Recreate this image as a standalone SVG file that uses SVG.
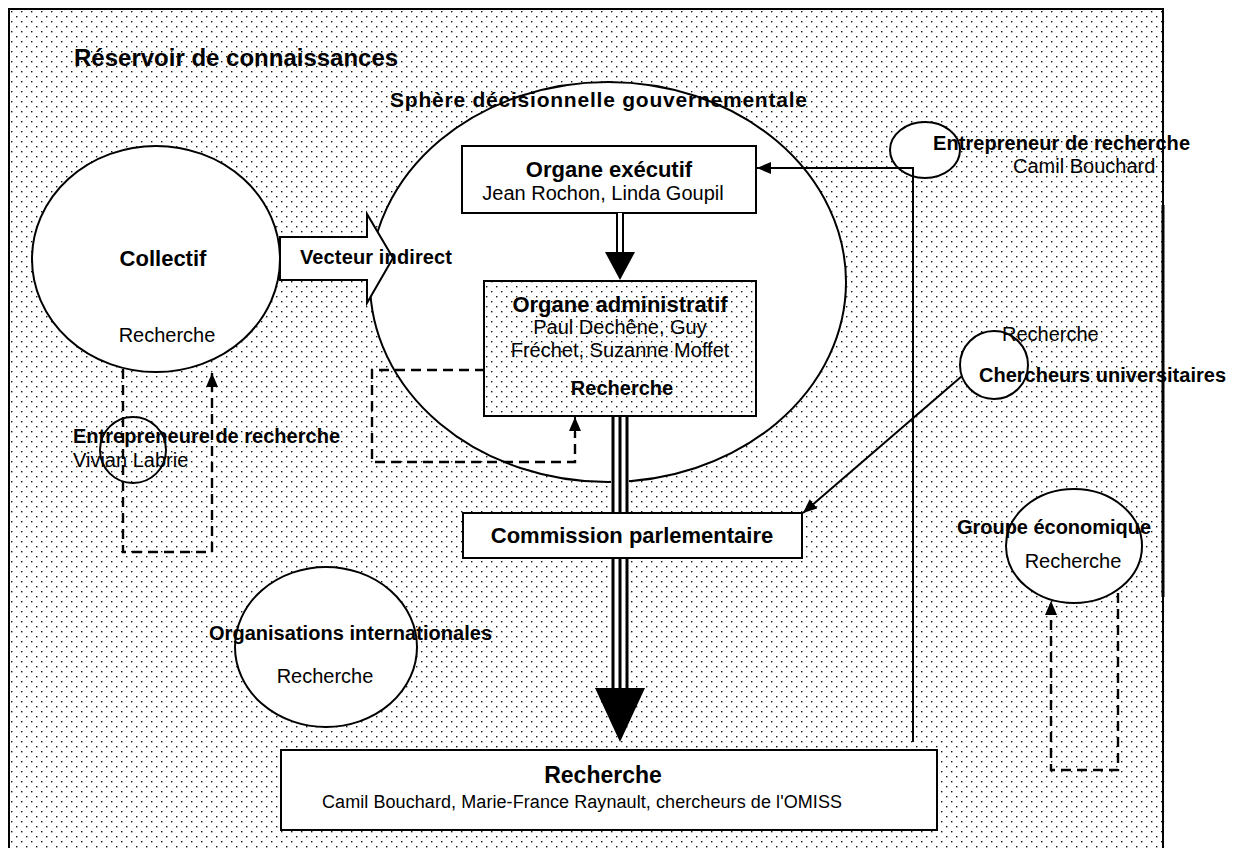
<svg xmlns="http://www.w3.org/2000/svg" width="1240" height="848" viewBox="0 0 1240 848">
<defs>
<pattern id="dots" width="10" height="10" patternUnits="userSpaceOnUse">
<rect x="0" y="0" width="10" height="10" fill="#fff"/>
<rect x="1" y="1" width="1.4" height="1.4" fill="#111"/>
<rect x="6" y="6" width="1.4" height="1.4" fill="#111"/>
</pattern>
<marker id="ah" markerUnits="userSpaceOnUse" markerWidth="14" markerHeight="12" refX="14" refY="6" orient="auto">
<path d="M0,0 L14,6 L0,12 z" fill="#000"/>
</marker>
</defs>
<style>
text{font-family:"Liberation Sans",Arial,sans-serif;fill:#000}
.b{font-weight:bold;font-size:20px}
.r{font-size:20px}
.w{fill:#fff;stroke:#000;stroke-width:2}
.o{fill:none;stroke:#000;stroke-width:2}
.d{fill:none;stroke:#000;stroke-width:2.4;stroke-dasharray:10,6}
.c{text-anchor:middle}
</style>
<rect x="9" y="9" width="1154" height="850" fill="url(#dots)" stroke="#000" stroke-width="2"/>
<line x1="1163" y1="205" x2="1163" y2="597" stroke="#000" stroke-width="3"/>
<text x="74" y="66" style="font-weight:bold;font-size:24px">Réservoir de connaissances</text>

<g id="sphere">
<ellipse cx="608" cy="282" rx="238" ry="200" class="w"/>
<text x="390" y="107" style="font-weight:bold;font-size:21px" textLength="417" lengthAdjust="spacing">Sphère décisionnelle gouvernementale</text>
</g>

<g id="executif">
<rect x="462" y="146" width="294" height="67" class="w"/>
<text x="609" y="177" class="c" style="font-weight:bold;font-size:22px">Organe exécutif</text>
<text x="603" y="200" class="r c">Jean Rochon, Linda Goupil</text>
</g>

<g id="administratif">
<rect x="484" y="281" width="272" height="135" fill="url(#dots)" stroke="#000" stroke-width="2"/>
<text x="620" y="312" class="c" style="font-weight:bold;font-size:22px">Organe administratif</text>
<text x="620" y="334" class="r c">Paul Dechêne, Guy</text>
<text x="620" y="357" class="r c">Fréchet, Suzanne Moffet</text>
<text x="622" y="395" class="b c">Recherche</text>
</g>

<g id="collectif">
<ellipse cx="156" cy="259" rx="124" ry="113" class="w"/>
<text x="163" y="266" class="c" style="font-weight:bold;font-size:22px">Collectif</text>
<text x="167" y="342" class="r c">Recherche</text>
</g>

<g id="vecteur">
<polygon points="280,237 367,237 367,214 393,258 367,303 367,280 280,280" class="w"/>
<text x="300" y="264" class="b" textLength="152" lengthAdjust="spacing">Vecteur indirect</text>
</g>

<g id="entrepreneure">
<circle cx="133" cy="450" r="33" class="o"/>
<text x="73" y="443" class="b" textLength="267" lengthAdjust="spacing">Entrepreneure de recherche</text>
<text x="73" y="467" class="r">Vivian Labrie</text>
</g>

<g id="entrepreneur">
<ellipse cx="925" cy="150" rx="35" ry="28" class="w"/>
<text x="933" y="150" class="b" textLength="257" lengthAdjust="spacing">Entrepreneur de recherche</text>
<text x="1013" y="173" class="r">Camil Bouchard</text>
</g>

<g id="chercheurs">
<circle cx="994" cy="365" r="34" class="w"/>
<text x="1002" y="341" class="r">Recherche</text>
<text x="979" y="382" class="b" textLength="247" lengthAdjust="spacing">Chercheurs universitaires</text>
</g>

<g id="commission">
<rect x="463" y="513" width="339" height="45" class="w"/>
<text x="632" y="543" class="c" style="font-weight:bold;font-size:22px">Commission parlementaire</text>
</g>

<g id="organisations">
<ellipse cx="326" cy="647" rx="91" ry="80" class="w"/>
<text x="209" y="640" class="b" textLength="283" lengthAdjust="spacing">Organisations internationales</text>
<text x="325" y="683" class="r c">Recherche</text>
</g>

<g id="groupe">
<ellipse cx="1074" cy="546" rx="68" ry="57" class="w"/>
<text x="957" y="534" class="b" textLength="194" lengthAdjust="spacing">Groupe économique</text>
<text x="1073" y="568" class="r c">Recherche</text>
</g>

<g id="recherche">
<rect x="281" y="750" width="656" height="80" class="w"/>
<text x="603" y="783" class="c" style="font-weight:bold;font-size:23px">Recherche</text>
<text x="322" y="808" style="font-size:18px" textLength="520" lengthAdjust="spacing">Camil Bouchard, Marie-France Raynault, chercheurs de l'OMISS</text>
</g>

<g id="connectors">
<rect x="616" y="213" width="8" height="39" fill="#fff"/>
<line x1="617" y1="213" x2="617" y2="252" stroke="#000" stroke-width="2"/>
<line x1="623" y1="213" x2="623" y2="252" stroke="#000" stroke-width="2"/>
<polygon points="605,252 635,252 620,280" fill="#000"/>

<rect x="611" y="417" width="18" height="95" fill="#fff"/>
<rect x="611" y="559" width="18" height="129" fill="#fff"/>
<path d="M613,417 V512 M620,417 V512 M627,417 V512 M613,559 V688 M620,559 V688 M627,559 V688" stroke="#000" stroke-width="3" fill="none"/>
<polygon points="595,688 645,688 620,742" fill="#000"/>

<path d="M913,742 V168 H757" class="o" marker-end="url(#ah)"/>
<line x1="962" y1="376" x2="803" y2="513" class="o" marker-end="url(#ah)"/>

<path d="M123,369 V552 H212 V373" class="d" marker-end="url(#ah)"/>
<path d="M485,370 H372 V462 H575 V432" class="d"/>
<line x1="575" y1="434" x2="575" y2="417" class="o" marker-end="url(#ah)"/>
<path d="M1118,593 V770 H1051 V601" class="d" marker-end="url(#ah)"/>
</g>
</svg>
